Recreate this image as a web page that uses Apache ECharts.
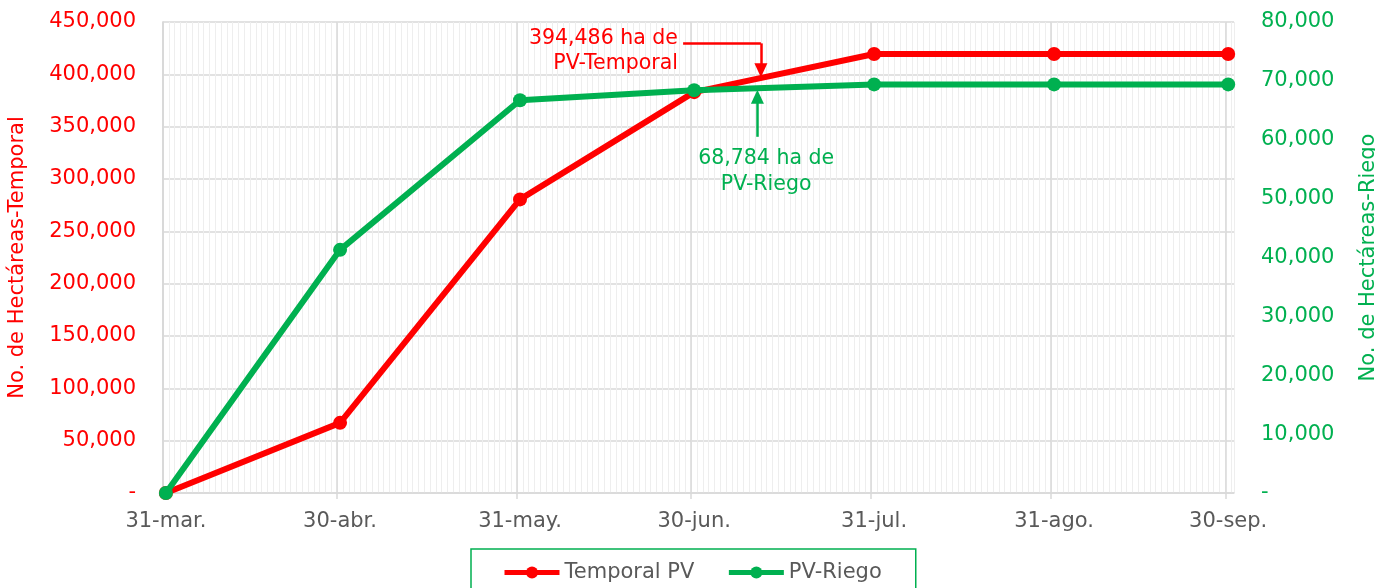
<!DOCTYPE html>
<html>
<head>
<meta charset="utf-8">
<script src="https://cdn.jsdelivr.net/npm/echarts@6/dist/echarts.min.js"></script>
<style>
  html, body { margin: 0; padding: 0; background: #ffffff; }
  #chart { width: 1375px; height: 588px; }
</style>
</head>
<body>
<div id="chart"></div>
<script>
// ---- Data ----
const dayOffsets = [0, 30, 61, 91, 122, 153, 183];              // days since 31-mar
const dateLabels = ['31-mar.', '30-abr.', '31-may.', '30-jun.', '31-jul.', '31-ago.', '30-sep.'];
const temporalPV = [0, 67000, 280500, 383000, 419400, 419400, 419400];
const riegoPV = [0, 41300, 66700, 68400, 69400, 69400, 69400];
const seriesNames = ['Temporal PV', 'PV-Riego'];
const axisNames = ['No. de Hectáreas-Temporal', 'No. de Hectáreas-Riego'];
const noteTemporal = ['394,486 ha de', 'PV-Temporal'];
const noteRiego = ['68,784 ha de', 'PV-Riego'];
// annotation anchors in axis units (x = day + 0.5, value)
const noteTemporalText = [88.7, 421800];
const noteTemporalArrow = [[89.6, 429600], [103.0, 429600], [103.0, 404000]];
const noteRiegoText = [103.9, 54520];
const noteRiegoArrow = [[102.4, 60500], [102.4, 67300]];

const RED = '#ff0000';
const GREEN = '#00b050';
const GRID = '#d9d9d9';
const FONT = 'DejaVu Sans';
const FS = 21;
const X_OFF = 0.5;
const xs = dayOffsets.map(d => d + X_OFF);
const X_MAX = 184.5;

const fmt = v => v === 0 ? '-' : v.toLocaleString('en-US');
const labelFor = v => {
  const i = xs.findIndex(x => Math.abs(x - v) < 1e-6);
  return i >= 0 ? dateLabels[i] : '';
};

const chart = echarts.init(document.getElementById('chart'), null, { renderer: 'canvas' });
chart.setOption({
  animation: false,
  textStyle: { fontFamily: FONT },
  grid: { left: 163, right: 141, top: 22, bottom: 95, outerBoundsMode: 'none' },
  legend: {
    left: 471, top: 549,
    padding: [13, 34, 13, 31],
    itemWidth: 55, itemHeight: 15, itemGap: 32,
    borderColor: GREEN, borderWidth: 1.5,
    lineStyle: { width: 5 },
    textStyle: { color: '#595959', fontSize: FS, fontFamily: FONT },
    data: seriesNames
  },
  xAxis: [{
    type: 'value', min: 0, max: X_MAX, interval: 1, position: 'bottom',
    axisLine: { show: true, lineStyle: { color: GRID, width: 1.5 } },
    axisTick: { show: true, customValues: dayOffsets, length: 6, lineStyle: { color: GRID, width: 1.5 } },
    axisLabel: { customValues: xs, formatter: labelFor, color: '#595959', fontSize: FS, margin: 18, fontFamily: FONT },
    splitLine: { show: true, lineStyle: { color: GRID, width: 1.5 } },
    z: 1
  }, {
    type: 'value', min: 0, max: X_MAX, interval: 1, position: 'top',
    axisLine: { show: false }, axisTick: { show: false }, axisLabel: { show: false },
    splitLine: { show: true, lineStyle: { color: '#eeeeee', width: 1 } },
    z: 0
  }],
  yAxis: [{
    type: 'value', min: 0, max: 450000, interval: 50000, position: 'left',
    name: axisNames[0], nameLocation: 'middle', nameRotate: 90, nameGap: 135,
    nameTextStyle: { color: RED, fontSize: FS, fontFamily: FONT },
    axisLine: { show: true, lineStyle: { color: GRID, width: 1.5 } },
    axisTick: { show: false },
    axisLabel: { color: RED, fontSize: FS, margin: 27, formatter: fmt, fontFamily: FONT },
    splitLine: { show: true, lineStyle: { color: GRID, width: 1.5 } }
  }, {
    type: 'value', min: 0, max: 80000, interval: 10000, position: 'right',
    name: axisNames[1], nameLocation: 'middle', nameRotate: 90, nameGap: 124,
    nameTextStyle: { color: GREEN, fontSize: FS, fontFamily: FONT },
    axisLine: { show: true, lineStyle: { color: GRID, width: 1.5 } },
    axisTick: { show: false },
    axisLabel: { color: GREEN, fontSize: FS, margin: 27, formatter: fmt, fontFamily: FONT },
    splitLine: { show: false }
  }],
  series: [{
    name: seriesNames[0], type: 'line', xAxisIndex: 0, yAxisIndex: 0, z: 3,
    data: xs.map((x, i) => [x, temporalPV[i]]),
    color: RED, symbol: 'circle', symbolSize: 14, showSymbol: true,
    lineStyle: { width: 6, color: RED }, itemStyle: { color: RED },
    markLine: {
      silent: true, animation: false,
      label: { show: false },
      lineStyle: { color: RED, width: 2.5, type: 'solid' },
      data: [
        [{ coord: noteTemporalArrow[0], symbol: 'none' }, { coord: noteTemporalArrow[1], symbol: 'none' }],
        [{ coord: noteTemporalArrow[1], symbol: 'none' }, { coord: noteTemporalArrow[2], symbol: 'triangle', symbolSize: [13, 14] }]
      ]
    },
    markPoint: {
      silent: true, symbol: 'circle', symbolSize: 0, animation: false,
      data: [{
        coord: noteTemporalText,
        label: { show: true, position: 'left', distance: 0, formatter: noteTemporal.join('\n'),
          color: RED, fontSize: 20.5, lineHeight: 25, fontFamily: FONT }
      }]
    }
  }, {
    name: seriesNames[1], type: 'line', xAxisIndex: 0, yAxisIndex: 1, z: 4,
    data: xs.map((x, i) => [x, riegoPV[i]]),
    color: GREEN, symbol: 'circle', symbolSize: 14, showSymbol: true,
    lineStyle: { width: 6, color: GREEN }, itemStyle: { color: GREEN },
    markLine: {
      silent: true, animation: false,
      label: { show: false },
      lineStyle: { color: GREEN, width: 2.5, type: 'solid' },
      data: [
        [{ coord: noteRiegoArrow[0], symbol: 'none' }, { coord: noteRiegoArrow[1], symbol: 'triangle', symbolSize: [13, 14] }]
      ]
    },
    markPoint: {
      silent: true, symbol: 'circle', symbolSize: 0, animation: false,
      data: [{
        coord: noteRiegoText,
        label: { show: true, position: 'inside', formatter: noteRiego.join('\n'), align: 'center',
          color: GREEN, fontSize: 20.5, lineHeight: 26, fontFamily: FONT }
      }]
    }
  }]
});
</script>
</body>
</html>
